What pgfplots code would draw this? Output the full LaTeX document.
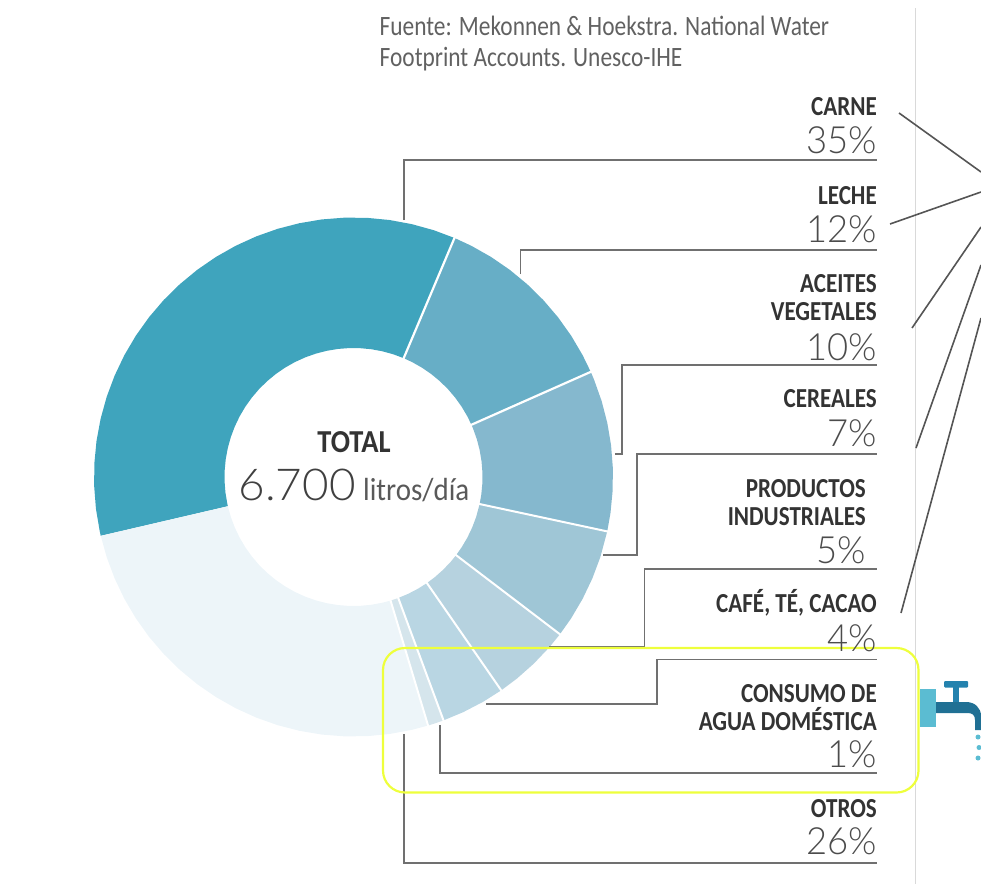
\documentclass[border=0pt]{standalone}
\usepackage{fontspec}
\usepackage{pgfplots}
\pgfplotsset{compat=1.18}
\usepgfplotslibrary{polar}
\setmainfont{Carlito}
\newfontfamily\labelf[FakeStretch=0.84]{Carlito Bold}
\newfontfamily\totalf[FakeStretch=0.89]{Carlito Bold}
\newfontfamily\srcf[FakeStretch=0.835]{Carlito}
\newfontfamily\litf[FakeStretch=0.905]{Carlito}
\newfontfamily\lightf[FakeStretch=0.97]{Lato Light}
\newfontfamily\bigf[FakeStretch=1.04]{Lato Light}
\definecolor{c1}{HTML}{3FA4BD}
\definecolor{c2}{HTML}{67AEC6}
\definecolor{c3}{HTML}{85B8CE}
\definecolor{c4}{HTML}{9FC6D6}
\definecolor{c5}{HTML}{B6D2DF}
\definecolor{c6}{HTML}{B9D6E3}
\definecolor{c7}{HTML}{D5E5EC}
\definecolor{c8}{HTML}{EDF5F9}
\definecolor{lead}{HTML}{707070}
\definecolor{diag}{HTML}{555555}
\definecolor{yell}{HTML}{EEFF3C}
\begin{document}
\begin{tikzpicture}
\useasboundingbox (0,0) rectangle (981pt,884pt);
\begin{polaraxis}[at={(353.5pt,407pt)},anchor=center,scale only axis,width=519pt,height=519pt,
  xmin=0,xmax=360,ymin=0,ymax=259.5,hide axis,clip=false]
% CARNE 35
\addplot[fill=c1,draw=none] coordinates {(67.1,259.5)(72,259.5)(77,259.5)(82,259.5)(87,259.5)(92,259.5)(97,259.5)(102,259.5)(107,259.5)(112,259.5)(117,259.5)(122,259.5)(127,259.5)(132,259.5)(137,259.5)(142,259.5)(147,259.5)(152,259.5)(157,259.5)(162,259.5)(167,259.5)(172,259.5)(177,259.5)(182,259.5)(187,259.5)(192,259.5)(193.1,259.5)
 (193.1,129)(192,129)(187,129)(182,129)(177,129)(172,129)(167,129)(162,129)(157,129)(152,129)(147,129)(142,129)(137,129)(132,129)(127,129)(122,129)(117,129)(112,129)(107,129)(102,129)(97,129)(92,129)(87,129)(82,129)(77,129)(72,129)(67.1,129)} -- cycle;
% LECHE 12
\addplot[fill=c2,draw=none] coordinates {(23.9,259.5)(28,259.5)(33,259.5)(38,259.5)(43,259.5)(48,259.5)(53,259.5)(58,259.5)(63,259.5)(67.1,259.5)
 (67.1,129)(63,129)(58,129)(53,129)(48,129)(43,129)(38,129)(33,129)(28,129)(23.9,129)} -- cycle;
% ACEITES 10
\addplot[fill=c3,draw=none] coordinates {(-12.1,259.5)(-8,259.5)(-3,259.5)(2,259.5)(7,259.5)(12,259.5)(17,259.5)(22,259.5)(23.9,259.5)
 (23.9,129)(22,129)(17,129)(12,129)(7,129)(2,129)(-3,129)(-8,129)(-12.1,129)} -- cycle;
% CEREALES 7
\addplot[fill=c4,draw=none] coordinates {(-37.3,259.5)(-33,259.5)(-28,259.5)(-23,259.5)(-18,259.5)(-12.1,259.5)
 (-12.1,129)(-18,129)(-23,129)(-28,129)(-33,129)(-37.3,129)} -- cycle;
% PRODUCTOS 5
\addplot[fill=c5,draw=none] coordinates {(-55.3,259.5)(-51,259.5)(-46,259.5)(-41,259.5)(-37.3,259.5)
 (-37.3,129)(-41,129)(-46,129)(-51,129)(-55.3,129)} -- cycle;
% CAFE 4
\addplot[fill=c6,draw=none] coordinates {(-69.7,259.5)(-65,259.5)(-60,259.5)(-55.3,259.5)
 (-55.3,129)(-60,129)(-65,129)(-69.7,129)} -- cycle;
% CONSUMO 1
\addplot[fill=c7,draw=none] coordinates {(-73.3,259.5)(-71.5,259.5)(-69.7,259.5)
 (-69.7,129)(-71.5,129)(-73.3,129)} -- cycle;
% OTROS 26
\addplot[fill=c8,draw=none] coordinates {(-166.9,259.5)(-162,259.5)(-157,259.5)(-152,259.5)(-147,259.5)(-142,259.5)(-137,259.5)(-132,259.5)(-127,259.5)(-122,259.5)(-117,259.5)(-112,259.5)(-107,259.5)(-102,259.5)(-97,259.5)(-92,259.5)(-87,259.5)(-82,259.5)(-77,259.5)(-73.3,259.5)
 (-73.3,129)(-77,129)(-82,129)(-87,129)(-92,129)(-97,129)(-102,129)(-107,129)(-112,129)(-117,129)(-122,129)(-127,129)(-132,129)(-137,129)(-142,129)(-147,129)(-152,129)(-157,129)(-162,129)(-166.9,129)} -- cycle;
% separators
\addplot[white,line width=2.2pt] coordinates {(67.1,127)(67.1,262)};
\addplot[white,line width=2.2pt] coordinates {(23.9,127)(23.9,262)};
\addplot[white,line width=2pt] coordinates {(-12.1,127)(-12.1,262)};
\addplot[white,line width=2pt] coordinates {(-37.3,127)(-37.3,262)};
\addplot[white,line width=2pt] coordinates {(-55.3,127)(-55.3,262)};
\addplot[white,line width=2pt] coordinates {(-69.7,127)(-69.7,262)};
\addplot[white,line width=2pt] coordinates {(-73.3,127)(-73.3,262)};
\end{polaraxis}
\begin{axis}[at={(0pt,0pt)},anchor=south west,scale only axis,width=981pt,height=884pt,
  xmin=0,xmax=981,ymin=0,ymax=884,y dir=reverse,hide axis,clip=true]
% page rule
\addplot[color=black!15,line width=1pt] coordinates {(915.5,8)(915.5,884)};
% leaders
\addplot[lead,line width=1.4pt] coordinates {(404,220)(404,160)(877,160)};
\addplot[lead,line width=1.4pt] coordinates {(520.5,274)(520.5,250)(877,250)};
\addplot[lead,line width=1.4pt] coordinates {(615,454)(622,454)(622,365)(877,365)};
\addplot[lead,line width=1.4pt] coordinates {(603,555)(637,555)(637,454)(877,454)};
\addplot[lead,line width=1.4pt] coordinates {(549,647)(644.5,647)(644.5,569)(877,569)};
\addplot[lead,line width=1.4pt] coordinates {(486,704)(657,704)(657,659.5)(877,659.5)};
\addplot[lead,line width=1.4pt] coordinates {(440,725)(440,773)(877,773)};
\addplot[lead,line width=1.4pt] coordinates {(404,734)(404,863)(877,863)};
% diagonals
\addplot[diag,line width=1.6pt] coordinates {(899,113)(981,172)};
\addplot[diag,line width=1.6pt] coordinates {(890,224)(981,192)};
\addplot[diag,line width=1.6pt] coordinates {(912,328)(981,227)};
\addplot[diag,line width=1.6pt] coordinates {(916,448)(981,265)};
\addplot[diag,line width=1.6pt] coordinates {(901,613)(981,318)};
% highlight
\draw[yell,line width=2.2pt,rounded corners=22pt] (axis cs:383,648) rectangle (axis cs:918.5,792.5);
% tap
\fill[color={rgb,255:red,91;green,188;blue,210}] (axis cs:920,689) rectangle (axis cs:936,726.5);
\fill[color={rgb,255:red,32;green,112;blue,148}] (axis cs:936,702) -- (axis cs:966,702) .. controls (axis cs:975,702) and (axis cs:981,708) .. (axis cs:981,716) -- (axis cs:981,730) -- (axis cs:975,730) -- (axis cs:975,720) .. controls (axis cs:975,715) and (axis cs:972,713) .. (axis cs:968,713) -- (axis cs:936,713) -- cycle;
\fill[color={rgb,255:red,36;green,130;blue,174}] (axis cs:953,686) rectangle (axis cs:959,702);
\fill[color={rgb,255:red,36;green,130;blue,174},rounded corners=1pt] (axis cs:944,681) rectangle (axis cs:968,687.5);
\fill[color={rgb,255:red,91;green,188;blue,210}] (axis cs:978,737) circle (2.5pt) (axis cs:979,747.5) circle (2.5pt) (axis cs:978,758) circle (2.5pt);
% source
\node[anchor=base west,inner sep=0pt,text=black!62,font=\srcf\fontsize{28}{30}\selectfont] at (axis cs:379.5,35) {Fuente: Mekonnen \& Hoekstra. National Water};
\node[anchor=base west,inner sep=0pt,text=black!62,font=\srcf\fontsize{28}{30}\selectfont] at (axis cs:379.5,66) {Footprint Accounts. Unesco-IHE};
% labels
\tikzset{lb/.style={anchor=base east,inner sep=0pt,text=black!80,font=\labelf\fontsize{27.5}{30}\selectfont},
 pc/.style={anchor=base east,inner sep=0pt,text=black!70,font=\lightf\fontsize{37.5}{42}\selectfont}}
\node[lb] at (axis cs:877,115) {CARNE};
\node[pc] at (axis cs:877,153) {35\%};
\node[lb] at (axis cs:877,204) {LECHE};
\node[pc] at (axis cs:877,242) {12\%};
\node[lb] at (axis cs:877,292) {ACEITES};
\node[lb] at (axis cs:877,320.5) {VEGETALES};
\node[pc] at (axis cs:877,360) {10\%};
\node[lb] at (axis cs:877,407) {CEREALES};
\node[pc] at (axis cs:877,446) {7\%};
\node[lb] at (axis cs:866,497) {PRODUCTOS};
\node[lb] at (axis cs:866,525.5) {INDUSTRIALES};
\node[pc] at (axis cs:866,563) {5\%};
\node[lb] at (axis cs:877,612) {CAFÉ, TÉ, CACAO};
\node[pc] at (axis cs:877,651) {4\%};
\node[lb] at (axis cs:877,702) {CONSUMO DE};
\node[lb] at (axis cs:877,730) {AGUA DOMÉSTICA};
\node[pc] at (axis cs:877,767) {1\%};
\node[lb] at (axis cs:877,817) {OTROS};
\node[pc] at (axis cs:877,854) {26\%};
% centre
\node[anchor=base,inner sep=0pt,text=black!80,font=\totalf\fontsize{32}{34}\selectfont] at (axis cs:354,452) {TOTAL};
\node[anchor=base west,inner sep=0pt,text=black!75,font=\bigf\fontsize{44}{48}\selectfont] at (axis cs:238.5,500.7) {6.700};
\node[anchor=base west,inner sep=0pt,text=black!65,font=\litf\fontsize{32}{36}\selectfont] at (axis cs:363,500.7) {litros/día};
\end{axis}
\end{tikzpicture}
\end{document}
